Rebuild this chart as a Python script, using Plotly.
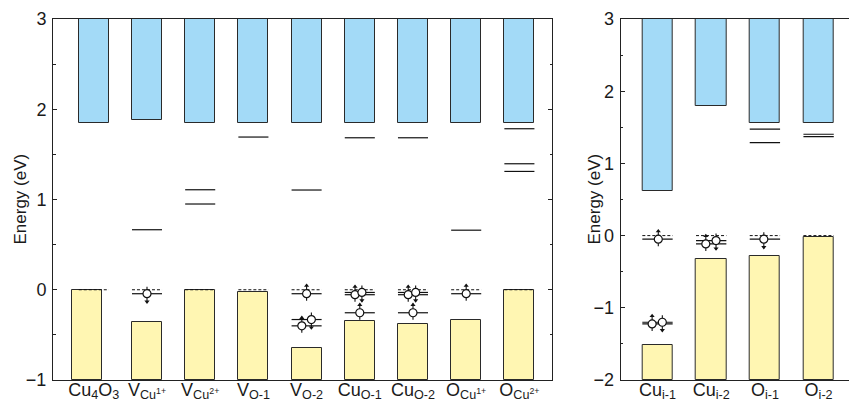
import plotly.graph_objects as go

# ---------------- data ----------------
left_labels = ["Cu<sub>4</sub>O<sub>3</sub>", "V<sub>Cu<sup>1+</sup></sub>", "V<sub>Cu<sup>2+</sup></sub>",
               "V<sub>O-1</sub>", "V<sub>O-2</sub>", "Cu<sub>O-1</sub>", "Cu<sub>O-2</sub>",
               "O<sub>Cu<sup>1+</sup></sub>", "O<sub>Cu<sup>2+</sup></sub>"]
left_cbm = [1.847, 1.876, 1.847, 1.847, 1.847, 1.847, 1.847, 1.847, 1.847]
left_vbm = [-0.005, -0.362, -0.005, -0.026, -0.643, -0.351, -0.377, -0.336, -0.005]
left_vbm_shift = [-0.13, 0, 0, 0, 0, 0, 0, 0, 0]

left_empty_cat = [1, 2, 2, 3, 4, 5, 6, 7, 8, 8, 8]
left_empty_e = [0.665, 1.108, 0.95, 1.692, 1.105, 1.684, 1.684, 0.66, 1.784, 1.396, 1.311]

left_hole_cat = [1, 4, 4, 4, 5, 5, 5, 6, 6, 6, 7]
left_hole_e = [-0.044, -0.044, -0.40, -0.33, -0.055, -0.03, -0.255, -0.055, -0.03, -0.255, -0.044]
left_hole_dx = [0, 0, -0.09, 0.09, -0.09, 0.04, 0, -0.09, 0.05, 0, 0]
left_hole_spin = [-1, 1, 1, -1, 1, -1, 1, 1, -1, 1, 1]

right_labels = ["Cu<sub>i-1</sub>", "Cu<sub>i-2</sub>", "O<sub>i-1</sub>", "O<sub>i-2</sub>"]
right_cbm = [0.62, 1.80, 1.557, 1.557]
right_vbm = [-1.514, -0.327, -0.281, -0.014]

right_empty_cat = [2, 2, 3, 3]
right_empty_e = [1.474, 1.288, 1.404, 1.371]

right_hole_cat = [0, 0, 0, 1, 1, 2]
right_hole_e = [-0.05, -1.224, -1.20, -0.115, -0.069, -0.05]
right_hole_dx = [0.015, -0.1, 0.09, -0.1, 0.09, -0.02]
right_hole_spin = [1, 1, -1, 1, -1, -1]

y_title = "Energy (eV)"

# ---------------- style ----------------
W, H = 849, 414
BLUE = "#A3DAF7"
YELLOW = "#FFF6B2"
EDGE = "#2a2a2a"
FONT = "Arial, Liberation Sans, sans-serif"
BAR_W = 0.565

L_DOM = [53 / W, 552 / W]
R_DOM = [620.7 / W, 1.0]
Y_DOM = [34 / H, 395 / H]
L_XR = [-0.767, 8.613]
R_XR = [-0.685, 3.566]
L_YR = [-1, 3]
R_YR = [-2, 3]
plot_h = (Y_DOM[1] - Y_DOM[0]) * H

fig = go.Figure()


def panel(xa, ya, ncat, cbm, vbm, vshift, top, bottom, ecat, ee, hcat, he, hdx, hspin, yr):
    pxu = plot_h / (yr[1] - yr[0])  # pixels per energy unit
    cats = list(range(ncat))
    # conduction band
    fig.add_trace(go.Bar(x=cats, y=[top - c for c in cbm], base=cbm, width=BAR_W,
                         marker=dict(color=BLUE, line=dict(color=EDGE, width=1)),
                         xaxis=xa, yaxis=ya, showlegend=False, hoverinfo="skip"))
    # valence band
    fig.add_trace(go.Bar(x=[c + s for c, s in zip(cats, vshift)], y=[v - bottom for v in vbm],
                         base=[bottom] * ncat, width=BAR_W,
                         marker=dict(color=YELLOW, line=dict(color=EDGE, width=1)),
                         xaxis=xa, yaxis=ya, showlegend=False, hoverinfo="skip"))
    # VBM reference dashed lines
    xs, ys = [], []
    for c in cats:
        xs += [c - BAR_W / 2, c + BAR_W / 2, None]
        ys += [0, 0, None]
    fig.add_trace(go.Scatter(x=xs, y=ys, mode="lines", line=dict(color="#111", width=1, dash="3px,2px"),
                             xaxis=xa, yaxis=ya, showlegend=False, hoverinfo="skip"))
    # solid levels (empty + hole levels)
    xs, ys = [], []
    for c, e in list(zip(ecat, ee)) + list(zip(hcat, he)):
        xs += [c - BAR_W / 2, c + BAR_W / 2, None]
        ys += [e, e, None]
    fig.add_trace(go.Scatter(x=xs, y=ys, mode="lines", line=dict(color="#111", width=1.2),
                             xaxis=xa, yaxis=ya, showlegend=False, hoverinfo="skip"))
    # spin arrows
    xs, ys, hx, hy, sym = [], [], [], [], []
    for c, e, d, s in zip(hcat, he, hdx, hspin):
        x0 = c + d
        xs += [x0, x0, None]
        ys += [e - s * 7 / pxu, e + s * 9 / pxu, None]
        hx.append(x0)
        hy.append(e + s * 8 / pxu)
        sym.append("triangle-up" if s > 0 else "triangle-down")
    fig.add_trace(go.Scatter(x=xs, y=ys, mode="lines", line=dict(color="#111", width=1.1),
                             xaxis=xa, yaxis=ya, showlegend=False, hoverinfo="skip"))
    fig.add_trace(go.Scatter(x=hx, y=hy, mode="markers",
                             marker=dict(symbol=sym, size=4.5, color="#111", line=dict(width=0)),
                             xaxis=xa, yaxis=ya, showlegend=False, hoverinfo="skip"))
    # holes (open circles)
    fig.add_trace(go.Scatter(x=[c + d for c, d in zip(hcat, hdx)], y=he, mode="markers",
                             marker=dict(symbol="circle", size=8, color="white",
                                         line=dict(color="#111", width=1.2)),
                             xaxis=xa, yaxis=ya, showlegend=False, hoverinfo="skip"))


panel("x", "y", len(left_labels), left_cbm, left_vbm, left_vbm_shift, 3, -1,
      left_empty_cat, left_empty_e, left_hole_cat, left_hole_e, left_hole_dx, left_hole_spin, L_YR)
panel("x2", "y2", len(right_labels), right_cbm, right_vbm, [0] * 4, 3, -2,
      right_empty_cat, right_empty_e, right_hole_cat, right_hole_e, right_hole_dx, right_hole_spin, R_YR)

tickfont = dict(family=FONT, size=18, color="#1a1a1a")
common_x = dict(showline=True, linecolor="#222", linewidth=1, mirror=True, ticks="",
                showgrid=False, zeroline=False, tickfont=tickfont, automargin=False,
                ticklabelstandoff=-7)
common_y = dict(showline=True, linecolor="#222", linewidth=1, ticks="inside", ticklen=4,
                tickcolor="#222", showgrid=False, zeroline=False, tickfont=tickfont, dtick=1,
                automargin=False, ticklabelstandoff=2,
                minor=dict(ticks="inside", ticklen=2.5, dtick=0.5, tickcolor="#222"))

title_font = dict(family=FONT, size=17, color="#1a1a1a")
y_mid = (Y_DOM[0] + Y_DOM[1]) / 2
annotations = [
    dict(text=y_title, xref="paper", yref="paper", x=20 / W, y=y_mid, textangle=-90,
         showarrow=False, xanchor="center", yanchor="middle", font=title_font),
    dict(text=y_title, xref="paper", yref="paper", x=594 / W, y=y_mid, textangle=-90,
         showarrow=False, xanchor="center", yanchor="middle", font=title_font),
]

fig.update_layout(
    width=W, height=H, margin=dict(l=0, r=0, t=0, b=0, autoexpand=False),
    paper_bgcolor="white", plot_bgcolor="white", barmode="overlay", bargap=0,
    xaxis=dict(domain=L_DOM, range=L_XR, tickvals=list(range(len(left_labels))),
               ticktext=left_labels, anchor="y", **common_x),
    yaxis=dict(domain=Y_DOM, range=L_YR, anchor="x", mirror="ticks", **common_y),
    xaxis2=dict(domain=R_DOM, range=R_XR, tickvals=list(range(len(right_labels))),
                ticktext=right_labels, anchor="y2", **common_x),
    yaxis2=dict(domain=Y_DOM, range=R_YR, anchor="x2", mirror=False, **common_y),
    annotations=annotations,
)

fig.write_html("out.html")
